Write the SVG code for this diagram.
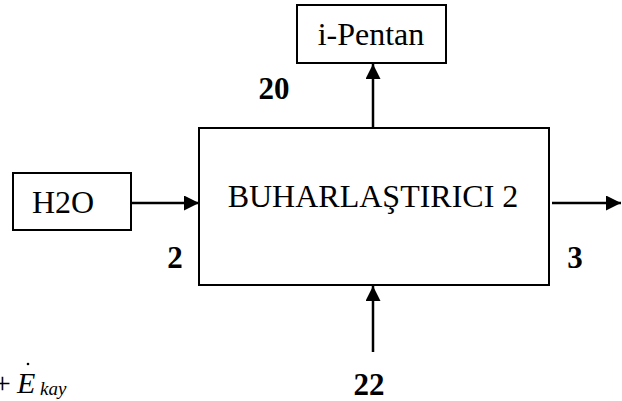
<svg xmlns="http://www.w3.org/2000/svg" width="622" height="401" viewBox="0 0 622 401">
  <style>
    .box { fill: #fff; stroke: #000; stroke-width: 2; }
    .lbl { font-family: "Liberation Serif", "Times New Roman", serif; font-size: 32px; fill: #000; }
    .num { font-family: "Liberation Serif", "Times New Roman", serif; font-size: 31px; font-weight: bold; fill: #000; }
    .it { font-family: "Liberation Serif", "Times New Roman", serif; font-style: italic; fill: #000; }
    .flow { stroke: #000; stroke-width: 2.5; fill: none; marker-end: url(#head); }
  </style>
  <defs>
    <marker id="head" markerWidth="16" markerHeight="15" refX="15" refY="7.5" orient="auto" markerUnits="userSpaceOnUse">
      <path d="M0,0 L15,7.5 L0,15 Z" fill="#000"/>
    </marker>
  </defs>
  <rect width="622" height="401" fill="#fff"/>

  <g id="connectors">
    <line class="flow" x1="131" y1="203" x2="199" y2="203"/>
    <line class="flow" x1="552" y1="203" x2="621" y2="203"/>
    <line class="flow" x1="373" y1="128" x2="373" y2="64"/>
    <line class="flow" x1="373" y1="352" x2="373" y2="286"/>
  </g>

  <g id="evaporator">
    <rect class="box" x="199" y="128" width="350" height="157"/>
    <text class="lbl" x="373" y="207" text-anchor="middle">BUHARLAŞTIRICI 2</text>
  </g>

  <g id="water">
    <rect class="box" x="13" y="173" width="118" height="57"/>
    <text class="lbl" x="63" y="213" text-anchor="middle">H2O</text>
  </g>

  <g id="pentane">
    <rect class="box" x="297" y="5" width="149" height="58"/>
    <text class="lbl" x="371" y="45" text-anchor="middle">i-Pentan</text>
  </g>

  <g id="stream-labels">
    <text class="num" x="274" y="99" text-anchor="middle">20</text>
    <text class="num" x="175" y="268" text-anchor="middle">2</text>
    <text class="num" x="575" y="268" text-anchor="middle">3</text>
    <text class="num" x="369" y="395" text-anchor="middle">22</text>
  </g>

  <g id="loss-term">
    <text class="it" x="-8" y="393" font-size="30" font-style="normal">+</text>
    <text class="it" x="17" y="393" font-size="30">E</text>
    <circle cx="28" cy="364" r="1.3" fill="#000"/>
    <text class="it" x="40" y="395" font-size="19">kay</text>
  </g>
</svg>
